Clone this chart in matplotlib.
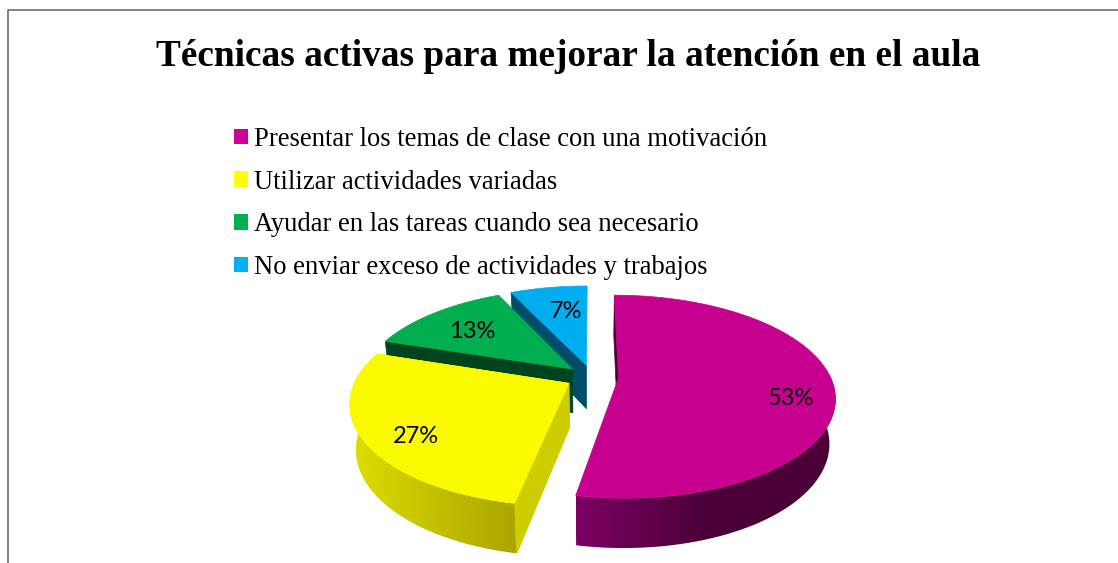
import numpy as np
import matplotlib.pyplot as plt
from matplotlib.colors import LinearSegmentedColormap
from matplotlib.patches import Patch, Polygon

title = 'Técnicas activas para mejorar la atención en el aula'
categories = ['Presentar los temas de clase con una motivación',
              'Utilizar actividades variadas',
              'Ayudar en las tareas cuando sea necesario',
              'No enviar exceso de actividades y trabajos']
values = [53, 27, 13, 7]
colors = ['#CC0099', '#FFFF00', '#00B050', '#00B0F0']
top_colors = ['#C80090', '#FAFA00', '#00AE4F', '#00AEEF']
cut_wall_colors = ['#4B0037', '#CDCD00', '#00441F', '#004D6B']
# gradient on the round walls, left to right on screen
wall_gradients = {0: ['#7D0064', '#4B0037', '#4B0037'],
                  1: ['#DEDE00', '#AAA500']}
label_nudge = [(22, 14), (-13, 15), (0, 3), (7, 3)]

# perspective of the pie, in pixels
CX, CY, RX, RY = 592, 377, 212, 97.7
PERSP = 0.182
EXPLODE = 0.125
SHRINK = 0.975


def project(theta, r, mid, bottom=False):
    """theta, mid in degrees clockwise from the top; returns pixel x, y."""
    t, m = np.radians(theta), np.radians(mid)
    x = r * np.sin(t) + EXPLODE * np.sin(m)
    y = r * np.cos(t) + EXPLODE * np.cos(m)
    s = 1 / (1 + PERSP * y)
    px = RX * x * s
    py = -RY * y * s
    if bottom:
        return CX + px * SHRINK, CY + py + 18 + 26 * s
    return CX + px, CY + py


def flat_wall(ax, theta, mid, color):
    pts = [project(theta, 1, mid), project(theta, 0, mid),
           project(theta, 0, mid, True), project(theta, 1, mid, True)]
    ax.add_patch(Polygon(pts, closed=True, fc=color, ec=color, lw=0.5))


fig = plt.figure(figsize=(11.18, 5.63), dpi=100)
ax = fig.add_axes([0, 0, 1, 1])
ax.axis('off')

# chart frame, cut off by the crop
ax.plot([7.5, 7.5, 1118], [563, 9.5, 9.5], color='#606060', lw=1.1)

ax.text(568, 57, title, family='Liberation Serif', weight='bold', fontsize=26.8,
        ha='center', va='center')

handles = [Patch(facecolor=c, edgecolor='none', label=l) for c, l in zip(colors, categories)]

starts = np.cumsum([0] + values[:-1]) / sum(values) * 360
ends = np.cumsum(values) / sum(values) * 360
mids = (starts + ends) / 2

# back slices first, yellow in front of everything else on the left
for i in [3, 2, 0, 1]:
    a0, a1, mid = starts[i], ends[i], mids[i]

    flat_wall(ax, a0, mid, cut_wall_colors[i])

    # round wall, gradient image clipped to its outline
    if i in wall_gradients:
        lo, hi = max(a0, 90), min(a1, 285)
        th = np.linspace(lo, hi, 150)
        tx, ty = project(th, 1, mid)
        bx, by = project(th, 1, mid, True)
        outline = np.column_stack([np.r_[tx, bx[::-1]], np.r_[ty, by[::-1]]])
        clip = Polygon(outline, closed=True, fc='none', ec='none', transform=ax.transData)
        ax.add_patch(clip)
        cmap = LinearSegmentedColormap.from_list('wall', wall_gradients[i])
        grad = np.linspace(0, 1, 256).reshape(1, -1)
        im = ax.imshow(grad, cmap=cmap, aspect='auto', clip_path=clip, interpolation='bilinear',
                       extent=[outline[:, 0].min(), outline[:, 0].max(),
                               outline[:, 1].max(), outline[:, 1].min()])

    # top face
    th = np.linspace(a0, a1, 120)
    xs, ys = project(th, 1, mid)
    face = [project(a0, 0, mid)] + list(zip(xs, ys))
    ax.add_patch(Polygon(face, closed=True, fc=top_colors[i], ec=top_colors[i], lw=0.5))

    # yellow also shows its right hand cut face
    if i == 1:
        flat_wall(ax, a0, mid, cut_wall_colors[i])
        ax.add_patch(Polygon(face, closed=True, fc=top_colors[i], ec=top_colors[i], lw=0.5))

for v, mid, (dx, dy) in zip(values, mids, label_nudge):
    lx, ly = project(mid, 0.7, mid)
    ax.text(lx + dx, ly + dy, f'{v}%', family='Lato', fontsize=17, ha='center', va='center')

ax.set_xlim(0, 1118)
ax.set_ylim(563, 0)

ax.legend(handles=handles, loc='upper left', bbox_to_anchor=(234, 127),
          bbox_transform=ax.transData, frameon=False, borderpad=0, borderaxespad=0,
          prop={'family': 'Liberation Serif', 'size': 19.15}, handlelength=0.53,
          handleheight=0.53, handletextpad=0.24, labelspacing=0.665)

fig.savefig('out.png', dpi=100)
